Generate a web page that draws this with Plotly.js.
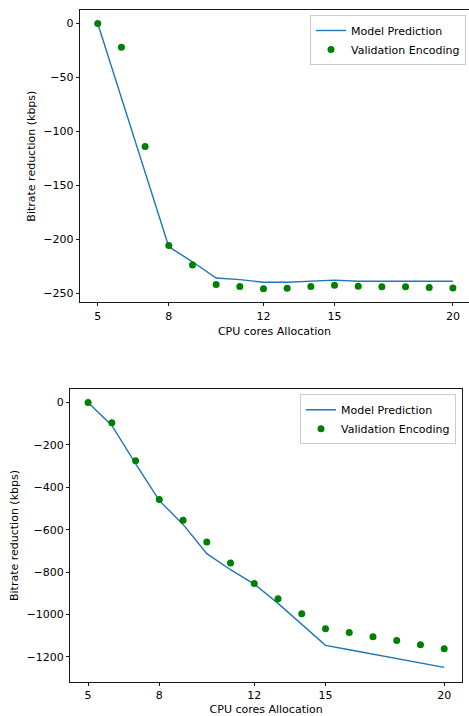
<!DOCTYPE html>
<html>
<head>
<meta charset="utf-8">
<script src="https://cdn.plot.ly/plotly-3.0.1.min.js"></script>
<style>html,body{margin:0;padding:0;background:#fff;}#chart{width:469px;height:716px;}</style>
</head>
<body>
<div id="chart"></div>
<script>
// Data
var cores = [5, 6, 7, 8, 9, 10, 11, 12, 13, 14, 15, 16, 17, 18, 19, 20];
var topPrediction = [0, -69, -138, -207, -221, -236, -237.5, -240, -240, -239, -238, -239, -239, -239, -239, -239];
var topValidation = [0, -22, -114, -206, -224, -242, -244, -246, -245.5, -244, -242.7, -243.6, -244.2, -244.2, -244.8, -245.4];
var bottomPrediction = [0, -108, -288, -463, -575, -713, -789, -857, -948, -1045, -1146, -1167, -1188, -1209, -1229, -1250];
var bottomValidation = [0, -95, -275, -458, -556, -658, -757, -854, -926, -997, -1068, -1085, -1105, -1123, -1143, -1162];
var xTicks = [5, 8, 12, 15, 20];
var seriesNames = ["Model Prediction", "Validation Encoding"];
var xTitle = "CPU cores Allocation";
var yTitle = "Bitrate reduction (kbps)";

var FONT = "DejaVu Sans, sans-serif";
var FS = 11;
var lineColor = "#1f77b4";
var dotColor = "#008000";

var traces = [
  {x: cores, y: topPrediction, type: "scatter", mode: "lines", name: seriesNames[0],
   line: {color: lineColor, width: 1.4}, xaxis: "x", yaxis: "y", legend: "legend"},
  {x: cores, y: topValidation, type: "scatter", mode: "markers", name: seriesNames[1],
   marker: {color: dotColor, size: 7}, xaxis: "x", yaxis: "y", legend: "legend"},
  {x: cores, y: bottomPrediction, type: "scatter", mode: "lines", name: seriesNames[0],
   line: {color: lineColor, width: 1.4}, xaxis: "x2", yaxis: "y2", legend: "legend2"},
  {x: cores, y: bottomValidation, type: "scatter", mode: "markers", name: seriesNames[1],
   marker: {color: dotColor, size: 7}, xaxis: "x2", yaxis: "y2", legend: "legend2"}
];

function xAxis(domain, range, anchor) {
  return {
    domain: domain, range: range, anchor: anchor,
    tickmode: "array", tickvals: xTicks,
    showgrid: false, zeroline: false, showline: true, mirror: true,
    linecolor: "#000", linewidth: 0.9, ticks: "outside", ticklen: 3.5, tickwidth: 0.9, tickcolor: "#000",
    tickfont: {family: FONT, size: FS, color: "#000"},
    title: {text: xTitle, font: {family: FONT, size: FS, color: "#000"}, standoff: 5},
    automargin: false
  };
}
function yAxis(domain, range, anchor, dtick, mirror) {
  return {
    domain: domain, range: range, anchor: anchor, dtick: dtick, tick0: 0,
    showgrid: false, zeroline: false, showline: true, mirror: mirror,
    linecolor: "#000", linewidth: 0.9, ticks: "outside", ticklen: 3.5, tickwidth: 0.9, tickcolor: "#000",
    tickfont: {family: FONT, size: FS, color: "#000"},
    title: {text: yTitle, font: {family: FONT, size: FS, color: "#000"}, standoff: 5},
    automargin: false
  };
}

var legendStyle = function (x, y) {
  return {x: x, y: y, xanchor: "right", yanchor: "top",
    bgcolor: "rgba(255,255,255,0.8)", bordercolor: "#cccccc", borderwidth: 1,
    font: {family: FONT, size: FS, color: "#000"}};
};

var layout = {
  width: 469, height: 716,
  margin: {l: 0, r: 0, t: 0, b: 0},
  paper_bgcolor: "#fff", plot_bgcolor: "#fff",
  showlegend: true,
  font: {family: FONT, size: FS, color: "#000"},
  xaxis: xAxis([80 / 469, 1], [4.25, 20.68], "y"),
  yaxis: yAxis([414 / 716, 705.7 / 716], [-258.3, 12.3], "x", 50, false),
  xaxis2: xAxis([70.3 / 469, 462 / 469], [4.25, 20.75], "y2"),
  yaxis2: yAxis([34.3 / 716, 326.7 / 716], [-1317.75, 62.75], "x2", 200, true),
  legend: legendStyle(466 / 469, 701 / 716),
  legend2: legendStyle(456 / 469, (716 - 394.3) / 716)
};

Plotly.newPlot("chart", traces, layout, {staticPlot: true, displayModeBar: false});
</script>
</body>
</html>
